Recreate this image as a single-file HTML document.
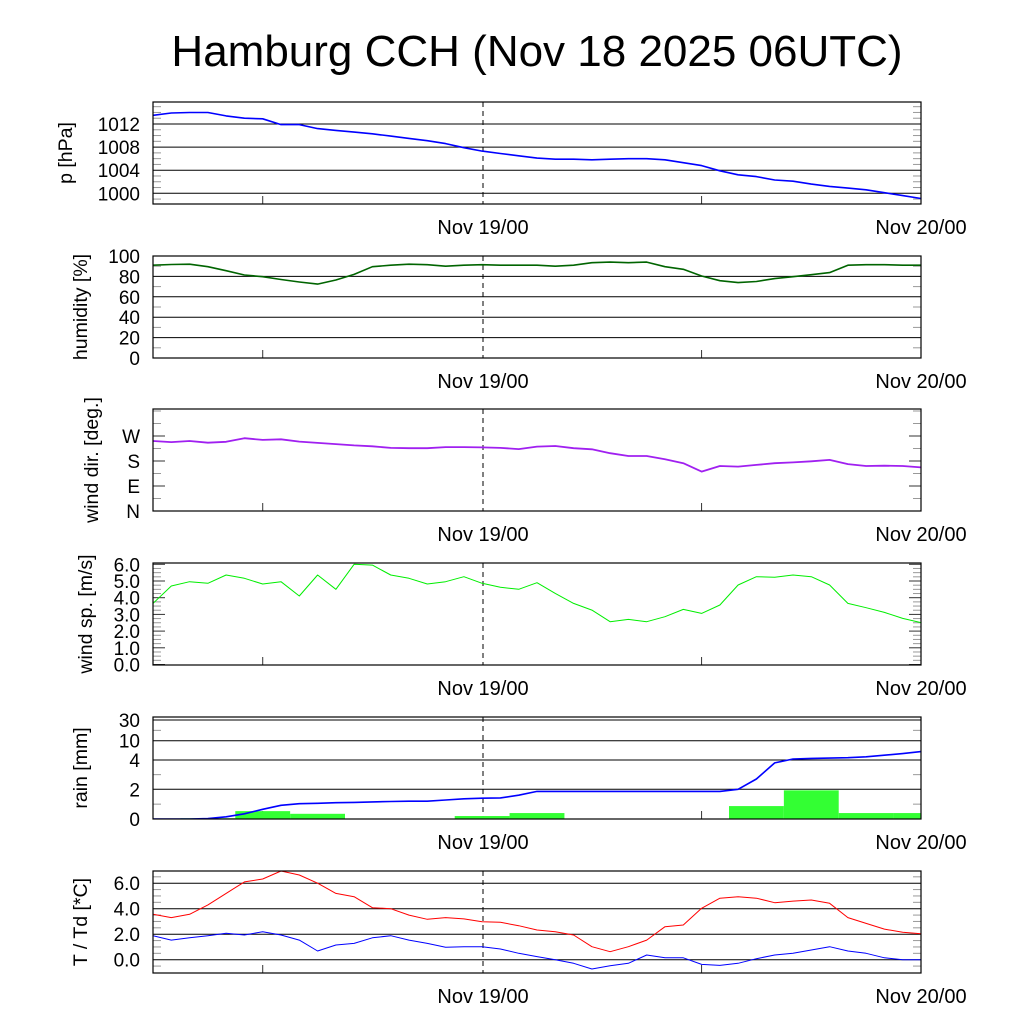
<!DOCTYPE html>
<html><head><meta charset="utf-8"><style>
html,body{margin:0;padding:0;background:#fff;}
svg{display:block;font-family:"Liberation Sans",sans-serif;}
</style></head><body>
<svg id="chart" width="1024" height="1024" viewBox="0 0 1024 1024">
<rect width="1024" height="1024" fill="#fff"/>
<text x="537" y="66" font-size="44" text-anchor="middle">Hamburg CCH (Nov 18 2025 06UTC)</text>
</svg>
<script>
// hourly samples from Nov 18 06UTC (hour 0) to Nov 20 00UTC (hour 42)
const pressure = [1013.5,1013.9,1014.0,1014.0,1013.4,1013.0,1012.9,1011.9,1011.9,1011.2,1010.9,1010.6,1010.3,1009.9,1009.5,1009.1,1008.6,1007.9,1007.3,1006.9,1006.5,1006.1,1005.9,1005.9,1005.8,1005.9,1006.0,1006.0,1005.8,1005.3,1004.8,1003.9,1003.2,1002.9,1002.3,1002.1,1001.6,1001.2,1000.9,1000.6,1000.1,999.6,999.1];
const humidity = [91,91.7,92,89.5,85.6,81.4,79.7,77,74.5,72.5,76.5,82,89.5,91,92,91.5,90,91,91.5,91,91,91,90,91,93.4,94,93.4,94,89.5,87,80.4,75.8,73.9,75,77.8,79.7,81.7,83.7,91,91.5,91.5,91,91];
const windDir = [252,248,252,246,249,262,256,258,250,245,241,236,233,227,226,226,230,230,229,227,223,232,234,226,222,208,198,198,186,172,142,162,160,166,172,175,179,184,169,162,163,162,157];
const windSpeed = [3.66,4.7,4.96,4.86,5.36,5.16,4.82,4.96,4.1,5.36,4.5,6.0,5.95,5.36,5.16,4.82,4.96,5.26,4.86,4.62,4.5,4.9,4.26,3.66,3.26,2.56,2.7,2.56,2.86,3.3,3.06,3.56,4.76,5.26,5.22,5.36,5.26,4.76,3.66,3.4,3.12,2.76,2.5];
const rainCum = [0,0,0,0.03,0.15,0.35,0.65,0.92,1.03,1.06,1.1,1.12,1.15,1.18,1.2,1.2,1.28,1.36,1.4,1.42,1.6,1.86,1.86,1.86,1.86,1.86,1.86,1.86,1.86,1.86,1.86,1.86,2.0,2.7,3.8,4.3,4.5,4.6,4.7,5.0,5.5,6.0,6.6];
const rainBins = [0.05,0.53,0.35,0.03,0,0.2,0.4,0,0,0,0.87,1.93,0.4,0.4]; // 3-hourly, starting hour 1.5
const temp = [3.56,3.3,3.56,4.3,5.2,6.1,6.33,6.96,6.64,6.0,5.2,4.94,4.08,4.0,3.5,3.17,3.3,3.2,2.98,2.93,2.67,2.33,2.2,1.94,1.02,0.63,1.02,1.54,2.59,2.72,4.03,4.82,4.94,4.82,4.47,4.6,4.68,4.42,3.3,2.85,2.4,2.15,2.04];
const dewpoint = [1.88,1.54,1.72,1.88,2.07,1.94,2.2,1.94,1.54,0.68,1.15,1.28,1.72,1.88,1.54,1.28,0.97,1.02,1.02,0.84,0.5,0.24,0,-0.28,-0.73,-0.47,-0.28,0.37,0.15,0.15,-0.37,-0.45,-0.28,0.08,0.37,0.5,0.76,1.02,0.68,0.5,0.15,0,0];

const svg = document.getElementById('chart');
const NS = 'http://www.w3.org/2000/svg';
const X0 = 153, X1 = 921, PX_PER_H = (921 - 153) / 42;
function xOf(h){ return X0 + h * PX_PER_H; }
function mk(tag, attrs, parent){
  const e = document.createElementNS(NS, tag);
  for (const k in attrs) e.setAttribute(k, attrs[k]);
  (parent || svg).appendChild(e);
  return e;
}
function linScale(v0, y0, v1, y1){ return v => y0 + (v - v0) * (y1 - y0) / (v1 - v0); }

const panels = [
  {name:'pressure', top:102, title:'p [hPa]', tx:72, y:linScale(1012,124,1000,193.3),
   ticks:[[1012,'1012'],[1008,'1008'],[1004,'1004'],[1000,'1000']], grid:true, minor:[999,1001,1002,1003,1005,1006,1007,1009,1010,1011,1013,1014,1015]},
  {name:'humidity', top:256, title:'humidity [%]', tx:87, y:linScale(0,358,100,256),
   ticks:[[100,'100'],[80,'80'],[60,'60'],[40,'40'],[20,'20'],[0,'0']], grid:true, minor:[10,30,50,70,90]},
  {name:'wind-direction', top:409, title:'wind dir. [deg.]', tx:98, y:linScale(0,511,90,486),
   ticks:[[270,'W'],[180,'S'],[90,'E'],[0,'N']], grid:false, minor:[45,135,225,315,360]},
  {name:'wind-speed', top:563, title:'wind sp. [m/s]', tx:92, y:linScale(0,664.5,1,647.8),
   ticks:[[6,'6.0'],[5,'5.0'],[4,'4.0'],[3,'3.0'],[2,'2.0'],[1,'1.0'],[0,'0.0']], grid:false, minor:[0.25,0.5,0.75,1.25,1.5,1.75,2.25,2.5,2.75,3.25,3.5,3.75,4.25,4.5,4.75,5.25,5.5,5.75]},
  {name:'rain', top:717, title:'rain [mm]', tx:87, y:(function(){
     const vs=[0,2,4,10,30,40], ys=[819,789.3,760,740.7,720,715];
     return v => { for(let i=0;i<vs.length-1;i++){ if(v<=vs[i+1]) return ys[i]+(v-vs[i])*(ys[i+1]-ys[i])/(vs[i+1]-vs[i]); } return ys[ys.length-1]; };
   })(),
   ticks:[[30,'30'],[10,'10'],[4,'4'],[2,'2'],[0,'0']], grid:true, minor:[1,3,20]},
  {name:'temperature', top:871, title:'T / Td [*C]', tx:87, y:linScale(0,959.7,2,934.2),
   ticks:[[6,'6.0'],[4,'4.0'],[2,'2.0'],[0,'0.0']], grid:true, minor:[-0.5,0.5,1,1.5,2.5,3,3.5,4.5,5,5.5,6.5]}
];

function drawLine(arr, yf, color, width, name, top){
  const d = arr.map((v,i) => (i?'L':'M') + xOf(i).toFixed(1) + ',' + yf(v).toFixed(1)).join(' ');
  const p = mk('path', {d:d, fill:'none', stroke:color, 'stroke-width':width, 'stroke-linejoin':'round', 'clip-path':'url(#clip-'+top+')'});
  
  
}

panels.forEach(P => {
  const g = mk('g', {});
  
  
  const bot = P.top + 102;
  const cp = mk('clipPath', {id:'clip-'+P.top}, g);
  mk('rect', {x:X0, y:P.top, width:X1-X0, height:102}, cp);
  P.minor.forEach(v => {
    const y = P.y(v);
    if (y < P.top || y > bot) return;
    mk('line', {x1:X0, x2:X0+8, y1:y, y2:y, stroke:'#999', 'stroke-width':1}, g);
    mk('line', {x1:X1-8, x2:X1, y1:y, y2:y, stroke:'#999', 'stroke-width':1}, g);
  });
  P.ticks.forEach(t => {
    const y = P.y(t[0]);
    if (P.grid) mk('line', {x1:X0, x2:X1, y1:y, y2:y, stroke:'#000', 'stroke-width':1}, g);
    else {
      mk('line', {x1:X0, x2:X0+12, y1:y, y2:y, stroke:'#333', 'stroke-width':1}, g);
      mk('line', {x1:X1-12, x2:X1, y1:y, y2:y, stroke:'#333', 'stroke-width':1}, g);
    }
    const tl = mk('text', {x:140, y:y+7, 'font-size':19, 'text-anchor':'end'}, g);
    tl.textContent = t[1];
    
    
  });
  [6, 30].forEach(h => {
    mk('line', {x1:xOf(h), x2:xOf(h), y1:bot-8, y2:bot, stroke:'#333', 'stroke-width':1}, g);
  });
  mk('line', {x1:483, x2:483, y1:P.top, y2:bot, stroke:'#000', 'stroke-width':1, 'stroke-dasharray':'5,4'}, g);
  const at = mk('text', {x:P.tx, y:(P.top+51), 'font-size':19.5, 'text-anchor':'middle', transform:'rotate(-90 '+P.tx+' '+(P.top+51)+')'}, g);
  at.textContent = P.title;
  
  
  [['Nov 19/00',483],['Nov 20/00',921]].forEach(l => {
    const xl = mk('text', {x:l[1], y:bot+30, 'font-size':20, 'text-anchor':'middle'}, g);
    xl.textContent = l[0];
    
    
  });
  P.g = g;
});

rainBins.forEach((v, k) => {
  const P = panels[4];
  const h0 = 1.5 + 3*k, h1 = Math.min(42, h0 + 3);
  const y = P.y(v);
  const r = mk('rect', {x:xOf(h0), y:y, width:xOf(h1)-xOf(h0), height:819-y, fill:'#33ff33', 'clip-path':'url(#clip-717)'});
  
  
});

drawLine(pressure, panels[0].y, '#0000ff', 1.6, 'pressure-line', 102);
drawLine(humidity, panels[1].y, '#006400', 1.6, 'humidity-line', 256);
drawLine(windDir, panels[2].y, '#a020f0', 1.8, 'wind-direction-line', 409);
drawLine(windSpeed, panels[3].y, '#00ee00', 1, 'wind-speed-line', 563);
drawLine(rainCum, panels[4].y, '#0000ff', 1.6, 'rain-cumulative-line', 717);
drawLine(temp, panels[5].y, '#ff0000', 1, 'temperature-line', 871);
drawLine(dewpoint, panels[5].y, '#0000ff', 1, 'dewpoint-line', 871);

panels.forEach(P => {
  const f = mk('rect', {x:X0, y:P.top, width:X1-X0, height:102, fill:'none', stroke:'#000', 'stroke-width':1.2});
  
  
});
</script>
</body></html>
